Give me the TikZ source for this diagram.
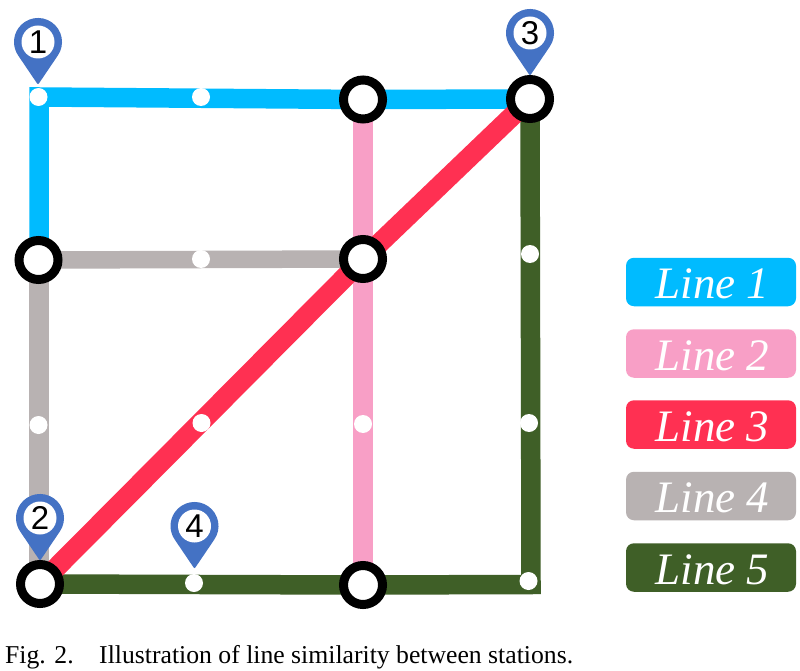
\documentclass[tikz,border=0pt]{standalone}
\usepackage{fontspec}
\setmainfont{Liberation Serif}
\setsansfont{Liberation Sans}
\definecolor{lineA}{HTML}{00BBFF}
\definecolor{lineB}{HTML}{F89FC6}
\definecolor{lineC}{HTML}{FF3052}
\definecolor{lineD}{HTML}{B8B2B2}
\definecolor{lineE}{HTML}{3F5F27}
\definecolor{pinblue}{HTML}{4472C4}
\tikzset{
  station/.style={circle,draw=black,line width=9pt,fill=white,minimum size=39pt,inner sep=0pt,outer sep=0pt},
  halt/.style={circle,fill=white,minimum size=18pt,inner sep=0pt},
  route/.style={line width=19.5pt,line cap=butt,line join=miter},
  legendbox/.style={rectangle,rounded corners=8pt,minimum width=170pt,minimum height=48.5pt,inner sep=0pt,text=white,font=\fontsize{45}{48}\selectfont\itshape},
  pinface/.style={circle,fill=white,minimum size=33pt,inner sep=0pt,font=\fontsize{33}{35}\sffamily\selectfont},
  pinbody/.style={fill=pinblue,draw=pinblue,line width=2pt,line join=round},
  caption/.style={anchor=base west,inner sep=0pt,font=\fontsize{25.7}{28}\selectfont}
}
\newcommand{\legendtext}[1]{\hspace*{3pt}\raisebox{-2pt}[\height][\depth]{#1}}
\newcommand{\mappin}[4]{%
  \path[pinbody] (#1,#2) ++(18.9,13.1) arc[start angle=34.8,end angle=-214.8,radius=23] -- (#1,#2+41) -- cycle;
  \node[pinface] (#3) at (#1,#2) {#4};
}
\begin{document}
\begin{tikzpicture}[x=1pt,y=-1pt]
\useasboundingbox (0,0) rectangle (800,671);
\fill[white] (0,0) rectangle (800,671);
% stations and halts (positions)
\coordinate (tl) at (39,97);
\coordinate (br) at (531,584.5);
\coordinate (a) at (38.5,260);
\coordinate (b) at (363,259);
\coordinate (c) at (363,99.5);
\coordinate (d) at (530,99);
\coordinate (e) at (40,584);
\coordinate (f) at (363,585);
% routes
\draw[route,lineD,line width=17.5pt] (b) -- (a);
\draw[route,lineD] (39,258) -- (39,584);
\draw[route,lineA] (d) -- (c) -- (tl) -- (39,260);
\draw[route,lineB] (c) -- (b) -- (f);
\draw[route,lineE] (d) -- (br) -- (f) -- (e);
\draw[route,lineC,line width=20pt] (d) -- (b) -- (e);
% halts
\node[halt] (h1) at (38.5,97) {};
\node[halt] (h2) at (201,97) {};
\node[halt] (h3) at (201,259) {};
\node[halt] (h4) at (530,254) {};
\node[halt] (h5) at (529,423) {};
\node[halt] (h6) at (528.5,581) {};
\node[halt] (h7) at (363,424) {};
\node[halt] (h8) at (38.5,425) {};
\node[halt] (h9) at (201.5,423) {};
\node[halt] (h10) at (194,583) {};
% station rings
\node[station] (sa) at (a) {};
\node[station] (sb) at (b) {};
\node[station] (sc) at (c) {};
\node[station] (sd) at (d) {};
\node[station] (se) at (e) {};
\node[station] (sf) at (f) {};
% pins
\mappin{38}{42}{p1}{1}
\mappin{40}{518}{p2}{2}
\mappin{530}{33}{p3}{3}
\mappin{194.5}{526}{p4}{4}
% legend
\node[legendbox,fill=lineA] (l1) at (711,282) {\legendtext{Line 1}};
\node[legendbox,fill=lineB] (l2) at (711,353.5) {\legendtext{Line 2}};
\node[legendbox,fill=lineC] (l3) at (711,424.5) {\legendtext{Line 3}};
\node[legendbox,fill=lineD] (l4) at (711,496) {\legendtext{Line 4}};
\node[legendbox,fill=lineE] (l5) at (711,567.5) {\legendtext{Line 5}};
% caption
\node[caption] (cap1) at (5,663) {Fig. 2.};
\node[caption] (cap2) at (99,663) {Illustration of line similarity between stations.};
\end{tikzpicture}
\end{document}
